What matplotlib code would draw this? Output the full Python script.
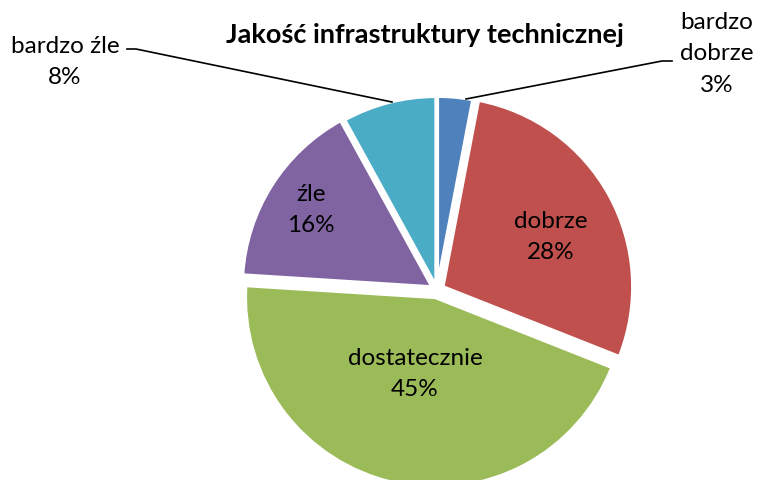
import matplotlib
matplotlib.use("Agg")
import matplotlib.pyplot as plt

categories = ["bardzo dobrze", "dobrze", "dostatecznie", "źle", "bardzo źle"]
values = [3, 28, 45, 16, 8]
colors = ["#4F81BD", "#C0504D", "#9BBB59", "#8064A2", "#4BACC6"]
title = "Jakość infrastruktury technicznej"

plt.rcParams["font.family"] = ["Lato", "DejaVu Sans"]

W, H = 757, 481
fig = plt.figure(figsize=(W / 100, H / 100), dpi=100)

# pie centre and radius in pixels
cx, cy, r = 437, 291, 190
half = 1.25
side = 2 * half * r
ax = fig.add_axes([(cx - side / 2) / W, (H - cy - side / 2) / H, side / W, side / H])
ax.set_xlim(-half, half)
ax.set_ylim(-half, half)
ax.set_aspect("equal")
ax.axis("off")

explode = [0.02, 0.035, 0.04, 0.03, 0.02]
ax.pie(values, colors=colors, startangle=90, counterclock=False,
       explode=explode, radius=1.0,
       wedgeprops=dict(edgecolor="white", linewidth=2.5))

def d(px, py):
    return ((px - cx) / r, (cy - py) / r)

fs = 17.5
ls = 1.6
pct = [f"{v}%" for v in values]

ax.text(*d(551, 237), f"{categories[1]}\n{pct[1]}", ha="center", va="center",
        fontsize=fs, linespacing=ls)
ax.text(*d(415, 374), f"{categories[2]}\n{pct[2]}", ha="center", va="center",
        fontsize=fs, linespacing=ls)
ax.text(*d(311, 210), f"{categories[3]}\n{pct[3]}", ha="center", va="center",
        fontsize=fs, linespacing=ls)

# outside labels with leader lines
ax.text(*d(65, 62), f"{categories[4]}\n{pct[4]}", ha="center", va="center",
        fontsize=fs, linespacing=ls, clip_on=False)
p = [d(127, 50), d(136, 50), d(392, 103)]
ax.plot([q[0] for q in p], [q[1] for q in p], color="black", lw=1.2, clip_on=False)

ax.text(*d(717, 54), "bardzo\ndobrze\n" + pct[0], ha="center", va="center",
        fontsize=fs, linespacing=ls, clip_on=False)
p = [d(672, 62), d(662, 62), d(466, 100)]
ax.plot([q[0] for q in p], [q[1] for q in p], color="black", lw=1.2, clip_on=False)

fig.text(425 / W, 1 - 35 / H, title, ha="center", va="center",
         fontsize=19.5, fontweight="bold")

fig.savefig("out.png", dpi=100)
